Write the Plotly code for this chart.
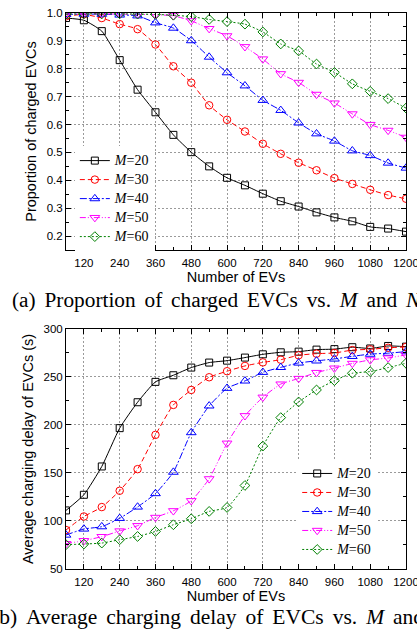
import plotly.graph_objects as go

n_evs = [60, 120, 180, 240, 300, 360, 420, 480, 540, 600, 660, 720, 780, 840, 900, 960, 1020, 1080, 1140, 1200]
m_values = [20, 30, 40, 50, 60]

prop_m20 = [0.982, 0.974, 0.935, 0.831, 0.725, 0.644, 0.563, 0.501, 0.450, 0.409, 0.382, 0.352, 0.325, 0.306, 0.285, 0.267, 0.253, 0.233, 0.227, 0.216]
prop_m30 = [0.988, 0.995, 0.982, 0.960, 0.942, 0.887, 0.809, 0.750, 0.669, 0.617, 0.575, 0.531, 0.495, 0.463, 0.436, 0.408, 0.387, 0.366, 0.347, 0.334]
prop_m40 = [0.995, 0.996, 0.996, 0.993, 0.990, 0.965, 0.946, 0.901, 0.842, 0.786, 0.739, 0.687, 0.651, 0.606, 0.567, 0.541, 0.506, 0.489, 0.462, 0.444]
prop_m50 = [0.996, 0.997, 0.997, 0.996, 0.995, 0.994, 0.990, 0.972, 0.944, 0.918, 0.879, 0.835, 0.782, 0.751, 0.708, 0.677, 0.638, 0.600, 0.579, 0.554]
prop_m60 = [0.996, 0.997, 0.997, 0.997, 0.996, 0.995, 0.992, 0.987, 0.977, 0.969, 0.960, 0.932, 0.889, 0.864, 0.817, 0.787, 0.746, 0.719, 0.693, 0.659]

delay_m20 = [111.0, 127.3, 156.8, 196.7, 223.7, 244.9, 251.8, 259.8, 265.0, 267.0, 270.2, 273.6, 275.7, 276.4, 278.5, 279.0, 281.0, 279.7, 282.3, 281.6]
delay_m30 = [90.6, 104.7, 114.5, 131.5, 154.0, 189.7, 220.9, 236.5, 249.7, 256.0, 261.5, 265.2, 268.0, 272.6, 274.3, 275.0, 278.0, 278.8, 280.4, 281.3]
delay_m40 = [85.4, 91.7, 94.1, 102.8, 114.6, 128.6, 150.9, 192.1, 219.9, 238.3, 245.9, 254.9, 260.0, 264.6, 266.8, 268.8, 271.5, 273.8, 274.8, 276.4]
delay_m50 = [76.4, 79.5, 83.7, 89.6, 95.1, 103.7, 110.6, 121.1, 143.9, 181.0, 209.6, 228.9, 242.6, 248.4, 254.6, 259.2, 264.1, 267.8, 269.8, 273.0]
delay_m60 = [75.3, 76.0, 77.0, 80.5, 83.9, 89.1, 96.1, 102.3, 110.0, 114.1, 137.0, 178.0, 207.7, 224.0, 236.5, 246.2, 253.9, 255.6, 259.8, 264.3]

prop_series = [prop_m20, prop_m30, prop_m40, prop_m50, prop_m60]
delay_series = [delay_m20, delay_m30, delay_m40, delay_m50, delay_m60]

colors = ["#000000", "#FF0000", "#0000FF", "#FF00FF", "#008000"]
dashes = ["solid", "5px,3px", "7px,2px,2px,2px", "6px,2px,1px,2px,1px,2px", "2px,2px"]
symbols = ["square-open", "circle-open", "triangle-up-open", "triangle-down-open", "diamond-open"]
sizes = [7, 7.5, 8.5, 8.5, 7.5]

SERIF = "Liberation Serif, Times New Roman, serif"
SANS = "Liberation Sans, Arial, sans-serif"

fig = go.Figure()
for i, m in enumerate(m_values):
    name = f"<span style='font-size:14px'><i>M</i>={m}</span>"
    fig.add_trace(go.Scatter(
        x=n_evs, y=prop_series[i], name=name, mode="lines+markers",
        xaxis="x", yaxis="y", legend="legend",
        line=dict(color=colors[i], width=1, dash=dashes[i], shape="spline", smoothing=0.5),
        marker=dict(symbol=symbols[i], size=sizes[i], color=colors[i], line=dict(width=1, color=colors[i])),
    ))
for i, m in enumerate(m_values):
    name = f"<span style='font-size:14px'><i>M</i>={m}</span>"
    fig.add_trace(go.Scatter(
        x=n_evs, y=delay_series[i], name=name, mode="lines+markers",
        xaxis="x2", yaxis="y2", legend="legend2",
        line=dict(color=colors[i], width=1, dash=dashes[i], shape="spline", smoothing=0.5),
        marker=dict(symbol=symbols[i], size=sizes[i], color=colors[i], line=dict(width=1, color=colors[i])),
    ))

tick_font = dict(family=SANS, size=11.5, color="black")
title_font = dict(family=SANS, size=14.5, color="black")

common_x = dict(
    range=[60, 1200], tick0=0, dtick=120, showgrid=True, gridcolor="#9a9a9a", griddash="2px,2px",
    gridwidth=1, showline=True, linecolor="black", linewidth=1, mirror="allticks",
    ticks="inside", ticklen=5, tickcolor="black", tickfont=tick_font, zeroline=False,
    automargin=False, ticklabeloverflow="allow", ticklabelstandoff=2,
    minor=dict(dtick=60, tick0=0, ticks="inside", ticklen=3, tickcolor="black", showgrid=False),
    title=dict(text="Number of EVs", font=title_font, standoff=2),
)
common_y = dict(
    showgrid=True, gridcolor="#9a9a9a", griddash="2px,2px", gridwidth=1,
    showline=True, linecolor="black", linewidth=1, mirror="allticks",
    ticks="inside", ticklen=5, tickcolor="black", tickfont=tick_font, zeroline=False,
    automargin=False,
)

SP = " \u2006"
cap_a = f"(a){SP}Proportion{SP}of{SP}charged{SP}EVCs{SP}vs.{SP}<i>M</i>{SP}and{SP}<i>N</i>"
cap_b = f"(b){SP}Average{SP}charging{SP}delay{SP}of{SP}EVCs{SP}vs.{SP}<i>M</i>{SP}and{SP}<i>N</i>"

fig.update_layout(
    template="none",
    width=417, height=633,
    margin=dict(l=66, r=11, t=13, b=64),
    paper_bgcolor="white", plot_bgcolor="white",
    showlegend=True,
    xaxis=dict(domain=[0, 1], anchor="y", **common_x),
    yaxis=dict(domain=[0.5737, 1.0], anchor="x", range=[0.15, 1.0], tick0=0, dtick=0.1, tickformat=".1f",
               minor=dict(dtick=0.05, tick0=0, ticks="inside", ticklen=3, tickcolor="black", showgrid=False),
               title=dict(text="Proportion of charged EVCs", font=title_font, standoff=6), **common_y),
    xaxis2=dict(domain=[0, 1], anchor="y2", **common_x),
    yaxis2=dict(domain=[0, 0.4317], anchor="x2", range=[50, 300], tick0=0, dtick=50,
                minor=dict(dtick=25, tick0=0, ticks="inside", ticklen=3, tickcolor="black", showgrid=False),
                title=dict(text="Average charging delay of EVCs (s)", font=title_font, standoff=6), **common_y),
    legend=dict(x=0.026, y=0.7606, xanchor="left", yanchor="top", bgcolor="white", borderwidth=0,
                font=dict(family=SERIF, size=11, color="black"), tracegroupgap=0),
    legend2=dict(x=0.68, y=0.1979, xanchor="left", yanchor="top", bgcolor="white", borderwidth=0,
                 font=dict(family=SERIF, size=11, color="black"), tracegroupgap=0),
    annotations=[
        dict(text=cap_a, xref="paper", yref="paper",
             x=-0.165, y=0.4838, xanchor="left", yanchor="middle", showarrow=False,
             font=dict(family=SERIF, size=21.3, color="black")),
        dict(text=cap_b, xref="paper", yref="paper",
             x=-0.2235, y=-0.0863, xanchor="left", yanchor="middle", showarrow=False,
             font=dict(family=SERIF, size=21.5, color="black")),
    ],
)

fig.write_html("out.html", config={"displayModeBar": False},
               post_script="document.body.style.margin='0px';")
